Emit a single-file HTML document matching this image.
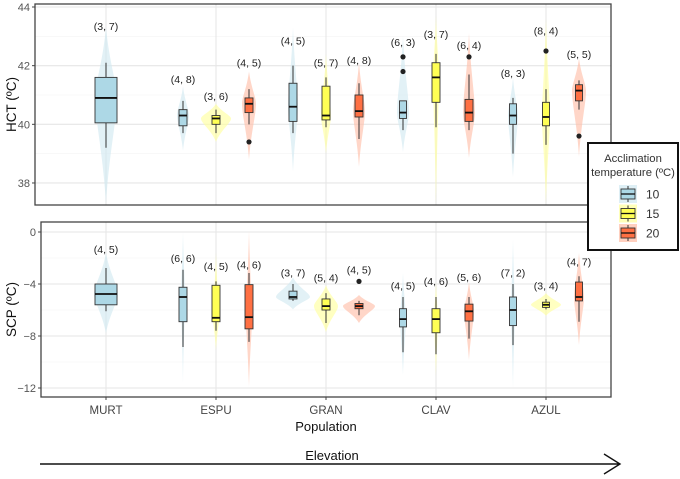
<!DOCTYPE html>
<html><head><meta charset="utf-8">
<style>
html,body{margin:0;padding:0;background:#fff;}
svg{display:block;font-family:"Liberation Sans",sans-serif;}
</style></head>
<body>
<svg id="chart" width="680" height="479" viewBox="0 0 680 479"></svg>
<script>
const populations = ["MURT","ESPU","GRAN","CLAV","AZUL"];
const temps = ["10","15","20"];
// group order: MURT-10, ESPU-10,15,20, GRAN-10,15,20, CLAV-10,15,20, AZUL-10,15,20
const groupPop  = [0,1,1,1,2,2,2,3,3,3,4,4,4];
const groupTemp = [0,0,1,2,0,1,2,0,1,2,0,1,2];
const sampleLabelsHCT = ["(3, 7)","(4, 8)","(3, 6)","(4, 5)","(4, 5)","(5, 7)","(4, 8)","(6, 3)","(3, 7)","(6, 4)","(8, 3)","(8, 4)","(5, 5)"];
const sampleLabelsSCP = ["(4, 5)","(6, 6)","(4, 5)","(4, 6)","(3, 7)","(5, 4)","(4, 5)","(4, 5)","(4, 6)","(5, 6)","(7, 2)","(3, 4)","(4, 7)"];
// HCT stats: [whiskerLow, q1, median, q3, whiskerHigh]
const hctStats = [
 [39.2,40.05,40.9,41.6,42.1],[39.7,39.95,40.3,40.5,40.8],[39.7,40.0,40.2,40.3,40.5],[40.0,40.4,40.7,40.9,41.2],
 [39.7,40.1,40.6,41.4,42.0],[39.9,40.15,40.3,41.3,41.6],[39.5,40.25,40.45,41.0,41.4],
 [39.8,40.2,40.4,40.8,40.8],[39.9,40.75,41.6,42.1,42.4],[39.8,40.1,40.4,40.85,41.7],
 [39.0,40.0,40.3,40.7,40.9],[39.3,39.95,40.25,40.75,41.2],[40.5,40.8,41.15,41.35,41.5]];
const hctOutliers = [[],[],[],[39.4],[],[],[],[42.3,41.8],[],[42.3],[],[42.5],[39.6]];
const hctViolin = [[37.3,43.3],[39.1,41.3],[39.4,40.7],[38.8,41.8],[38.4,43.3],[39.0,42.4],[38.55,42.1],[39.05,43.0],[37.3,43.7],[38.85,43.1],[38.2,41.6],[37.3,43.6],[38.9,42.25]];
const hctLabelAt = [43.35,41.55,40.97,42.1,42.85,42.1,42.2,42.8,43.08,42.7,41.75,43.2,42.4];
const scpStats = [
 [-6.1,-5.6,-4.77,-4.0,-2.77],[-8.85,-6.9,-5.0,-4.25,-2.9],[-7.6,-6.9,-6.6,-4.1,-3.8],[-8.45,-7.45,-6.55,-4.05,-3.15],
 [-5.3,-5.15,-5.0,-4.55,-4.0],[-7.0,-6.0,-5.7,-5.15,-4.7],[-6.4,-5.9,-5.7,-5.5,-5.3],
 [-9.25,-7.3,-6.7,-5.9,-5.0],[-9.4,-7.75,-6.7,-5.9,-5.0],[-8.2,-6.85,-6.1,-5.55,-5.0],
 [-8.7,-7.2,-6.0,-5.0,-4.0],[-5.95,-5.8,-5.6,-5.4,-5.15],[-6.9,-5.3,-5.0,-3.85,-3.4]];
const scpOutliers = [[],[],[],[],[],[],[-3.8],[],[],[],[],[],[]];
const scpViolin = [[-7.8,-1.6],[-11.6,0],[-9.1,-1.6],[-11.9,0.1],[-5.95,-3.5],[-7.7,-4.1],[-7.0,-4.85],[-11.0,-3.15],[-11.1,-3.85],[-9.85,-3.85],[-12.0,-0.6],[-6.45,-4.7],[-8.7,-1.6]];
const scpLabelAt = [-1.3,-2.0,-2.6,-2.5,-3.1,-3.5,-2.9,-4.1,-3.75,-3.45,-3.1,-4.1,-2.25];
const hctTicks = [38,40,42,44];
const scpTicks = [0,-4,-8,-12];
</script>
<script>
const svg = document.getElementById('chart');
const NS = 'http://www.w3.org/2000/svg';
function mk(tag, attrs, parent){ const e=document.createElementNS(NS,tag); for(const k in attrs) e.setAttribute(k,attrs[k]); (parent||svg).appendChild(e); return e; }
const fills = ["#add8e6","#ffff55","#ff7043"];
const violinFills = ["#d3e9f1","#ffffa0","#ffc0aa"];
const boxW = [22,8,8,8,8,8,8,7,8,8,7,7,7];
const vHalfH = [11,6,15,7,5,5,6,6,3,6,5,4,7];
const vHalfS = [12,2,3,3,17,12,16,3,2,5,2,15,5];
const xCat = i => 106 + i*110;
const dodge = t => (t-1)*33;

function panel(cfg){
  const {x0,x1,y0,y1,yScale,ticks,minor,stats,outl,viol,labelAt,labels,halfW,title,name} = cfg;
  const g = mk('g',{});
  
  
  mk('rect',{x:x0,y:y0,width:x1-x0,height:y1-y0,fill:'#fff'},g);
  minor.forEach(v=>mk('line',{x1:x0,x2:x1,y1:yScale(v),y2:yScale(v),stroke:'#f3f3f3','stroke-width':0.6},g));
  ticks.forEach(v=>{
    const gl=mk('line',{x1:x0,x2:x1,y1:yScale(v),y2:yScale(v),stroke:'#e6e6e6','stroke-width':1.1},g);
    
    
  });
  populations.forEach((p,i)=>mk('line',{x1:xCat(i),x2:xCat(i),y1:y0,y2:y1,stroke:'#e6e6e6','stroke-width':1.1},g));
  stats.forEach((s,k)=>{
    const cx = xCat(groupPop[k]) + (groupPop[k]===0?0:dodge(groupTemp[k]));
    const t = groupTemp[k];
    const top=yScale(viol[k][1]), bot=yScale(viol[k][0]), mid=yScale(s[2]), hw=halfW[k];
    const vp = mk('path',{d:`M${cx},${top} C${cx+hw*0.3},${top+(mid-top)*0.5} ${cx+hw},${mid-(mid-top)*0.2} ${cx+hw},${mid} C${cx+hw},${mid+(bot-mid)*0.2} ${cx+hw*0.3},${mid+(bot-mid)*0.5} ${cx},${bot} C${cx-hw*0.3},${mid+(bot-mid)*0.5} ${cx-hw},${mid+(bot-mid)*0.2} ${cx-hw},${mid} C${cx-hw},${mid-(mid-top)*0.2} ${cx-hw*0.3},${top+(mid-top)*0.5} ${cx},${top}Z`,fill:violinFills[t],'fill-opacity':0.65},g);
    
    
    const w=boxW[k];
    mk('line',{x1:cx,x2:cx,y1:yScale(s[4]),y2:yScale(s[3]),stroke:'#333','stroke-width':1},g);
    mk('line',{x1:cx,x2:cx,y1:yScale(s[1]),y2:yScale(s[0]),stroke:'#333','stroke-width':1},g);
    const b = mk('rect',{x:cx-w/2,y:yScale(s[3]),width:w,height:Math.max(1,yScale(s[1])-yScale(s[3])),fill:fills[t],stroke:'#333','stroke-width':0.9},g);
    
    
    mk('line',{x1:cx-w/2,x2:cx+w/2,y1:mid,y2:mid,stroke:'#111','stroke-width':1.8},g);
    outl[k].forEach(v=>{
      const o=mk('circle',{cx:cx,cy:yScale(v),r:2.6,fill:'#222'},g);
      
      
    });
    const lt = mk('text',{x:cx,y:yScale(labelAt[k])+4,'text-anchor':'middle','font-size':10.5,fill:'#222'},g);
    lt.textContent = labels[k];
    
    
  });
  mk('rect',{x:x0,y:y0,width:x1-x0,height:y1-y0,fill:'none',stroke:'#444','stroke-width':1.3},g);
  ticks.forEach(v=>{
    mk('line',{x1:x0-3,x2:x0,y1:yScale(v),y2:yScale(v),stroke:'#444','stroke-width':1},g);
    const tl=mk('text',{x:x0-5,y:yScale(v)+4,'text-anchor':'end','font-size':11,fill:'#555'},g);
    tl.textContent = v<0 ? '\u2212'+Math.abs(v) : String(v);
    
    
  });
  const yt = mk('text',{transform:`translate(16,${(y0+y1)/2}) rotate(-90)`,'text-anchor':'middle','font-size':13.5,fill:'#111'},g);
  yt.textContent = title;
  
  
}
const hY = v => 7 + (44-v)*29.33;
const sY = v => 232 - v*13;
panel({x0:35,x1:611,y0:4,y1:205,yScale:hY,ticks:hctTicks,minor:[39,41,43],stats:hctStats,outl:hctOutliers,viol:hctViolin,labelAt:hctLabelAt,labels:sampleLabelsHCT,halfW:vHalfH,title:'HCT (ºC)',name:'hct-panel'});
panel({x0:41,x1:611,y0:222,y1:397,yScale:sY,ticks:scpTicks,minor:[-2,-6,-10],stats:scpStats,outl:scpOutliers,viol:scpViolin,labelAt:scpLabelAt,labels:sampleLabelsSCP,halfW:vHalfS,title:'SCP (ºC)',name:'scp-panel'});

populations.forEach((p,i)=>{
  mk('line',{x1:xCat(i),x2:xCat(i),y1:397,y2:400,stroke:'#444','stroke-width':1});
  const t=mk('text',{x:xCat(i),y:414,'text-anchor':'middle','font-size':11.5,fill:'#444'});
  t.textContent=p;
  
  
});
const xt=mk('text',{x:326,y:431,'text-anchor':'middle','font-size':13,fill:'#111'});
xt.textContent='Population';


const et=mk('text',{x:332,y:460,'text-anchor':'middle','font-size':13,fill:'#111'});
et.textContent='Elevation';


const ar=mk('path',{d:'M40,464 L620,464 M604,454 L620,464 L604,474',stroke:'#111','stroke-width':1.4,fill:'none'});



// legend
const lg=mk('g',{});


mk('rect',{x:588,y:143,width:90,height:107,fill:'#fff',stroke:'#111','stroke-width':2},lg);
const l1=mk('text',{x:633,y:162,'text-anchor':'middle','font-size':11.3,fill:'#333'},lg); l1.textContent='Acclimation';
const l2=mk('text',{x:633,y:176,'text-anchor':'middle','font-size':11.3,fill:'#333'},lg); l2.textContent='temperature (ºC)';
temps.forEach((t,i)=>{
  const y=194+i*19.5;
  const e=mk('g',{},lg);
  
  
  mk('rect',{x:619,y:y-9,width:18,height:18,fill:violinFills[i],'fill-opacity':0.75},e);
  mk('line',{x1:628,x2:628,y1:y-8,y2:y+8,stroke:'#333'},e);
  mk('rect',{x:621,y:y-5,width:14,height:10,fill:fills[i],stroke:'#333','stroke-width':0.9},e);
  mk('line',{x1:621,x2:635,y1:y,y2:y,stroke:'#111','stroke-width':1.3},e);
  const tx=mk('text',{x:646,y:y+4.5,'font-size':12,fill:'#333'},e); tx.textContent=t;
});
</script>
</body></html>
